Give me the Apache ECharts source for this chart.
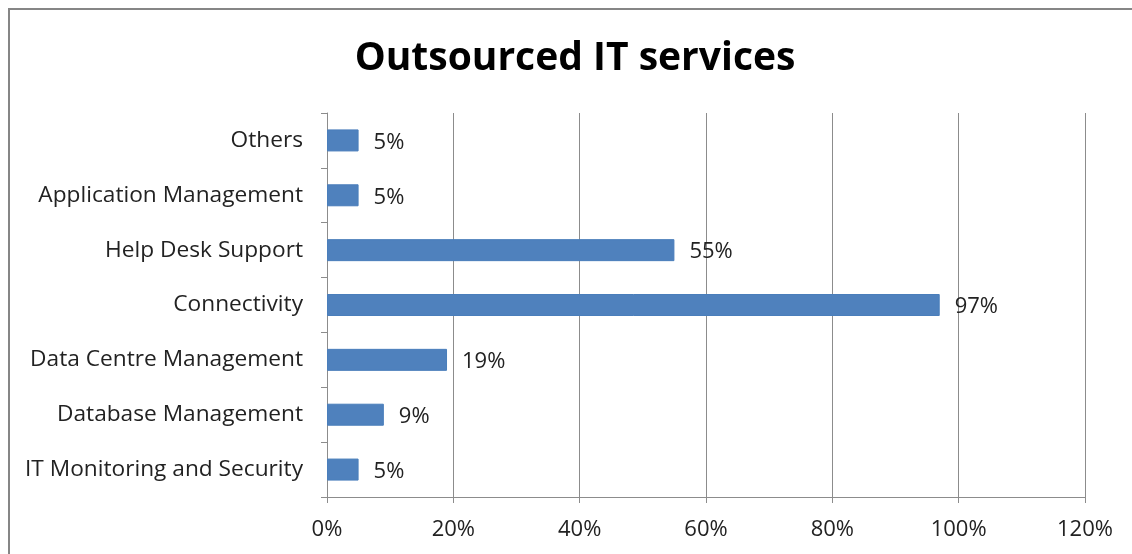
<!DOCTYPE html>
<html>
<head>
<meta charset="utf-8">
<script src="https://cdn.jsdelivr.net/npm/echarts@6/dist/echarts.min.js"></script>
<style>
  html, body { margin: 0; padding: 0; background: #fff; }
  #chart { width: 1132px; height: 554px; }
</style>
</head>
<body>
<div id="chart"></div>
<script>
// Service categories, listed bottom to top as drawn on the category axis
const categories = [
  'IT Monitoring and Security',
  'Database Management',
  'Data Centre Management',
  'Connectivity',
  'Help Desk Support',
  'Application Management',
  'Others'
];
// Share of respondents outsourcing each service (%)
const shares = [5, 9, 19, 97, 55, 5, 5];
// Value axis ticks (%)
const xTicks = [0, 20, 40, 60, 80, 100, 120];

const FONT = '"Open Sans", Lato, sans-serif';
const chart = echarts.init(document.getElementById('chart'));

chart.setOption({
  animation: false,
  title: {
    text: 'Outsourced IT services',
    left: 570,
    top: 34,
    textAlign: 'center',
    textStyle: { fontFamily: FONT, fontSize: 39, fontWeight: 'bold', color: '#000' }
  },
  graphic: [{
    type: 'rect',
    shape: { x: 9, y: 9, width: 1200, height: 700 },
    style: { fill: 'none', stroke: '#868686', lineWidth: 2 },
    silent: true
  }],
  grid: { left: 327, right: 47, top: 113, bottom: 57, containLabel: false },
  xAxis: {
    type: 'value',
    min: xTicks[0],
    max: xTicks[xTicks.length - 1],
    interval: xTicks[1] - xTicks[0],
    axisLine: { show: true, lineStyle: { color: '#8c8c8c', width: 1 } },
    axisTick: { show: true, length: 6, lineStyle: { color: '#8c8c8c' } },
    splitLine: { show: true, lineStyle: { color: '#8c8c8c', width: 1 } },
    axisLabel: {
      formatter: v => v + '%',
      fontFamily: FONT, fontSize: 22, color: '#222', margin: 22
    }
  },
  yAxis: {
    type: 'category',
    data: categories,
    axisLine: { show: true, lineStyle: { color: '#8c8c8c', width: 1 } },
    axisTick: { show: true, length: 6, lineStyle: { color: '#8c8c8c' } },
    axisLabel: {
      fontFamily: FONT, fontSize: 22.7, color: '#222', margin: 24,
      padding: [3, 0, 0, 0]
    }
  },
  series: [{
    type: 'bar',
    data: shares,
    barWidth: 22,
    itemStyle: { color: '#4f81bd', borderColor: '#4a7ebb', borderWidth: 1 },
    label: {
      show: true,
      position: 'right',
      distance: 15,
      offset: [0, 2],
      formatter: p => p.value + '%',
      fontFamily: FONT, fontSize: 22, color: '#222'
    }
  }]
});
</script>
</body>
</html>
